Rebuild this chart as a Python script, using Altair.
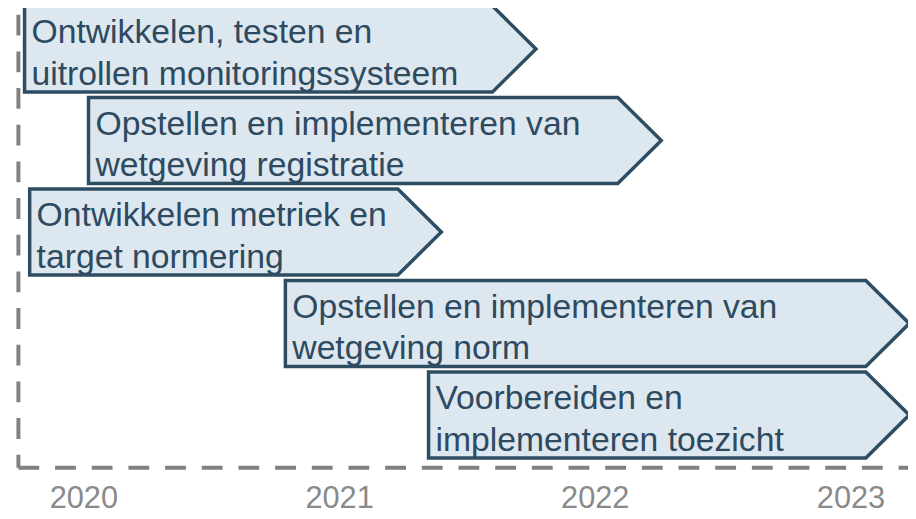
import altair as alt
import pandas as pd

# ---- data ----
tasks = [
    "Ontwikkelen, testen en\nuitrollen monitoringssysteem",
    "Opstellen en implementeren van\nwetgeving registratie",
    "Ontwikkelen metriek en\ntarget normering",
    "Opstellen en implementeren van\nwetgeving norm",
    "Voorbereiden en\nimplementeren toezicht",
]
starts = [2019.77, 2020.02, 2019.79, 2020.79, 2021.35]
ends = [2021.77, 2022.26, 2021.40, 2023.23, 2023.23]
rows = [0, 1, 2, 3, 4]
years = [2020, 2021, 2022, 2023]

ARROW = 0.17   # depth of the chevron point (years)
HALF = 0.47    # half height of a chevron (rows)

shape_recs = []
for i, (s, e, r) in enumerate(zip(starts, ends, rows)):
    shape_recs.append(dict(task=i, x=s, y=r - HALF, y2=r + HALF))
    shape_recs.append(dict(task=i, x=e - ARROW, y=r - HALF, y2=r + HALF))
    shape_recs.append(dict(task=i, x=e, y=r, y2=r))
shapes = pd.DataFrame(shape_recs)
labels = pd.DataFrame({"task": tasks, "x": starts, "y": rows})

FILL = "#dde7ef"
STROKE = "#2e4c62"
TEXT = "#2d4a60"
GRAY = "#808080"

xscale = alt.Scale(domain=[2019.744, 2023.225], nice=False, zero=False)
yscale = alt.Scale(domain=[-0.38, 4.57], nice=False, zero=False, reverse=True)

xaxis = alt.Axis(
    values=years, format="d", title=None, ticks=False, tickSize=0, grid=False,
    domainDash=[21, 16], domainColor=GRAY, domainWidth=4,
    labelFontSize=31, labelColor="#8a8a8a", labelFont="Liberation Sans",
    labelPadding=17, labelFlush=False, labelOverlap=False,
)
yaxis = alt.Axis(
    title=None, labels=False, ticks=False, tickSize=0, grid=False,
    domainDash=[21, 16], domainColor=GRAY, domainWidth=4,
)

area = alt.Chart(shapes).mark_area(
    fill=FILL, stroke=STROKE, strokeWidth=3.5, strokeJoin="miter", opacity=1
).encode(
    x=alt.X("x:Q", scale=xscale, axis=xaxis),
    y=alt.Y("y:Q", scale=yscale, axis=yaxis),
    y2="y2:Q",
    detail="task:N",
)

text = alt.Chart(labels).mark_text(
    align="left", baseline="middle", dx=7, dy=-16, lineBreak="\n",
    fontSize=34, lineHeight=42, font="Liberation Sans", color=TEXT,
).encode(
    x=alt.X("x:Q", scale=xscale),
    y=alt.Y("y:Q", scale=yscale),
    text="task:N",
)

chart = (area + text).properties(
    width=898, height=457,
    autosize=alt.AutoSizeParams(type="none"),
    padding={"left": 10, "top": 4, "right": 0, "bottom": 48},
    background="white",
).configure_view(stroke=None)

chart.save("out.html", embed_options={"renderer": "svg", "actions": False})
